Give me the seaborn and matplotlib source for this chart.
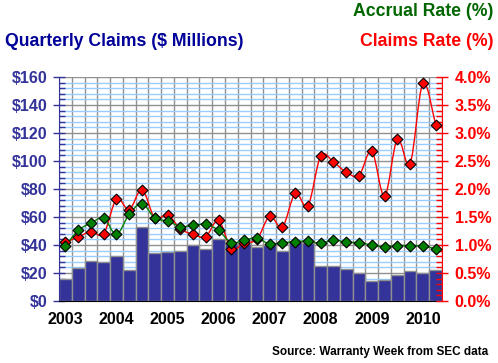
import numpy as np
import pandas as pd
import matplotlib
matplotlib.use("Agg")
import matplotlib.pyplot as plt
import seaborn as sns
from matplotlib.path import Path
from matplotlib.patches import PathPatch
from matplotlib.ticker import MultipleLocator, FixedLocator, NullFormatter

# DATA (2003 Q1 .. 2010 Q2)

years = [2003, 2004, 2005, 2006, 2007, 2008, 2009, 2010]
quarters = [f"{y}Q{q}" for y in years for q in range(1, 5)][:30]

claims = [15.5, 23.3, 28.3, 27.6,
          31.9, 21.9, 52.6, 34.0,
          34.8, 35.5, 39.8, 36.9,
          44.0, 41.0, 41.0, 38.8,
          39.8, 35.5, 41.9, 41.2,
          25.2, 25.2, 22.9, 19.8,
          14.0, 14.8, 18.6, 21.2,
          19.8, 22.1]

claims_rate = [1.05, 1.14, 1.24, 1.20,
               1.82, 1.63, 1.99, 1.48,
               1.54, 1.29, 1.19, 1.15,
               1.44, 0.93, 1.04, 1.10,
               1.51, 1.32, 1.92, 1.70,
               2.59, 2.48, 2.30, 2.24,
               2.68, 1.87, 2.89, 2.45,
               3.89, 3.15]

accrual_rate = [0.98, 1.26, 1.39, 1.48,
                1.19, 1.55, 1.74, 1.48,
                1.43, 1.33, 1.35, 1.37,
                1.26, 1.04, 1.09, 1.12,
                1.02, 1.04, 1.06, 1.07,
                1.03, 1.09, 1.05, 1.04,
                1.00, 0.97, 0.99, 0.99,
                0.98, 0.93]

df = pd.DataFrame({"quarter": quarters, "claims": claims,
                   "claims_rate": claims_rate, "accrual_rate": accrual_rate})
df["pos"] = np.arange(len(df))

NAVY = "#333399"
TXT_NAVY = "#000099"
RED = "#FF0000"
GREEN = "#008000"
GRID_BLUE = "#99CCFF"
GRID_GRAY = "#909090"

sns.set_style("white")
plt.rcParams["font.family"] = ["Liberation Sans", "DejaVu Sans"]
plt.rcParams["font.weight"] = "bold"

fig = plt.figure(figsize=(4.98, 3.63), dpi=100)
ax = fig.add_axes([59 / 498, 1 - 301 / 363, 383 / 498, 224 / 363])

# grid
ax.set_axisbelow(True)
ax.yaxis.set_major_locator(MultipleLocator(20))
ax.yaxis.set_minor_locator(MultipleLocator(4))
ax.grid(axis="y", which="minor", color=GRID_BLUE, lw=1)
ax.grid(axis="y", which="major", color=GRID_GRAY, lw=1)

# BARS
sns.barplot(data=df, x="quarter", y="claims", order=quarters, color=NAVY,
            saturation=1, width=1.0, edgecolor=GRID_GRAY, linewidth=1, ax=ax)

ax.set_xlim(-0.5, len(df) - 0.5)
ax.set_ylim(0, 160)
for b in np.arange(-0.5, len(df), 1.0):
    ax.axvline(b, color=GRID_GRAY, lw=1, zorder=0.5)

# x ticks: marks at quarter boundaries, labels at Q1 centers
ax.xaxis.set_major_locator(FixedLocator(np.arange(-0.5, len(df), 1.0)))
ax.xaxis.set_major_formatter(NullFormatter())
ax.xaxis.set_minor_locator(FixedLocator([4 * i for i in range(len(years))]))
ax.set_xticklabels([str(y) for y in years], minor=True)
ax.tick_params(axis="x", which="major", direction="out", length=6, width=1, color="black")
ax.tick_params(axis="x", which="minor", length=0, pad=8, labelsize=11.5, labelcolor="black")

ax.set_yticks(np.arange(0, 161, 20))
ax.set_yticklabels([f"${v}" for v in range(0, 161, 20)])
ax.tick_params(axis="y", which="major", direction="inout", length=8, width=1,
               color=NAVY, labelcolor=NAVY, labelsize=11.5, pad=4)
ax.tick_params(axis="y", which="minor", direction="in", length=4, width=1, color=NAVY)
ax.set_xlabel("")
ax.set_ylabel("")
for s in ["top", "right"]:
    ax.spines[s].set_visible(False)
ax.spines["left"].set_color(NAVY)
ax.spines["bottom"].set_color("black")

# RATES (right axis)
ax2 = ax.twinx()
ax2.set_ylim(0, 4)
ax2.set_xlim(-0.5, len(df) - 0.5)
ax2.yaxis.set_major_locator(MultipleLocator(0.5))
ax2.yaxis.set_minor_locator(MultipleLocator(0.1))
ax2.set_yticks(np.arange(0, 4.01, 0.5))
ax2.set_yticklabels([f"{v:.1f}%" for v in np.arange(0, 4.01, 0.5)])
ax2.tick_params(axis="y", which="major", direction="inout", length=8, width=1,
                color=RED, labelcolor=RED, labelsize=11.5, pad=5)
ax2.tick_params(axis="y", which="minor", direction="in", length=4, width=1, color=RED)
for s in ["top", "left", "bottom"]:
    ax2.spines[s].set_visible(False)
ax2.spines["right"].set_color(RED)


def smooth_path(x, y):
    # Catmull-Rom style smoothed line through the points (like Excel "smoothed line")
    pts = np.column_stack([x, y]).astype(float)
    ext = np.vstack([pts[0], pts, pts[-1]])
    verts = [tuple(pts[0])]
    codes = [Path.MOVETO]
    for i in range(len(pts) - 1):
        p0, p1, p2, p3 = ext[i], ext[i + 1], ext[i + 2], ext[i + 3]
        c1 = p1 + (p2 - p0) / 6
        c2 = p2 - (p3 - p1) / 6
        verts += [tuple(c1), tuple(c2), tuple(p2)]
        codes += [Path.CURVE4] * 3
    return Path(verts, codes)


for col, c in [("claims_rate", RED), ("accrual_rate", GREEN)]:
    ax2.add_patch(PathPatch(smooth_path(df["pos"], df[col]), facecolor="none",
                            edgecolor=c, lw=1, zorder=3))
    sns.scatterplot(data=df, x="pos", y=col, marker="D", s=30, color=c,
                    edgecolor="black", linewidth=0.8, zorder=4, ax=ax2, legend=False)
ax2.set_xlabel("")
ax2.set_ylabel("")

# TEXT
fig.text(5 / 498, 1 - 42 / 363, "Quarterly Claims ($ Millions)", color=TXT_NAVY,
         fontsize=12.7, fontweight="bold", va="center", ha="left")
fig.text(493 / 498, 1 - 12 / 363, "Accrual Rate (%)", color="#006600",
         fontsize=12.7, fontweight="bold", va="center", ha="right")
fig.text(493 / 498, 1 - 42 / 363, "Claims Rate (%)", color=RED,
         fontsize=12.7, fontweight="bold", va="center", ha="right")
fig.text(488 / 498, 1 - 352 / 363, "Source: Warranty Week from SEC data", color="black",
         fontsize=8.5, fontweight="bold", va="center", ha="right")

fig.savefig("out.png", dpi=100)
